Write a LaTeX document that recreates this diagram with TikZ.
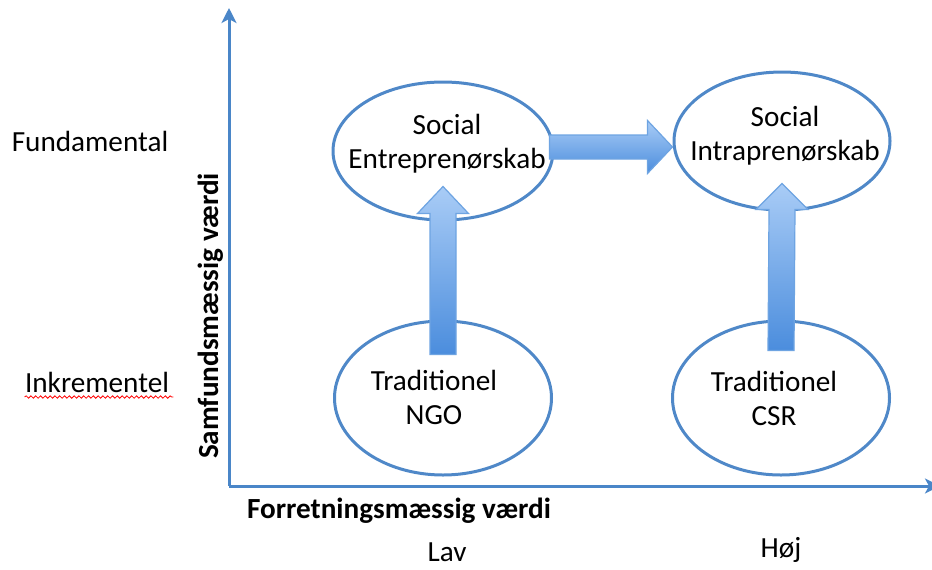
\documentclass[tikz,border=0pt]{standalone}
\usepackage{fontspec}
\setmainfont{Carlito}
\usetikzlibrary{shapes.geometric,arrows.meta,calc,decorations.pathmorphing}
\definecolor{axisblue}{HTML}{4A86C8}
\definecolor{ringblue}{HTML}{4F88C8}
\definecolor{arrowlight}{HTML}{A9CCF6}
\definecolor{arrowdark}{HTML}{4B8DDD}
\definecolor{arrowedge}{HTML}{6EA4E2}
\newcommand{\pxScale}[0]{0.5pt}

\begin{document}
\begin{tikzpicture}[x=\pxScale, y=-\pxScale, font=\fontsize{14.6}{17}\selectfont]
  \tikzset{
    axis/.style={draw=axisblue, line width=1.5pt, -{Stealth[length=7.5pt,width=7.5pt,inset=2pt]}},
    quadrant/.style={ellipse, draw=ringblue, line width=1.5pt, fill=white, inner sep=0pt},
    quadtext/.style={align=center, inner sep=0pt},
    levelname/.style={anchor=base, inner sep=0pt},
    axisname/.style={anchor=base, inner sep=0pt, font=\fontsize{14.6}{17}\selectfont\bfseries},
    blockarrow/.style={draw=arrowedge, line width=0.6pt, top color=arrowlight, bottom color=arrowdark}
  }
  \useasboundingbox (0,0) rectangle (932,569);

  % axes
  \coordinate (origin) at (229,486);
  \coordinate (ytop) at (229,8);
  \coordinate (xend) at (940,486);
  \draw[axis] (origin) -- (ytop);
  \draw[axis] (origin) -- (xend);

  % the four quadrants
  \node[quadrant, minimum width=110pt, minimum height=69pt] (ent) at (443,151) {};
  \node[quadrant, minimum width=108pt, minimum height=69pt] (intra) at (782,141) {};
  \node[quadrant, minimum width=108.5pt, minimum height=77pt] (ngo) at (443,398) {};
  \node[quadrant, minimum width=108.5pt, minimum height=77pt] (csr) at (781,398) {};

  % block arrows, tail inside one ellipse, tip inside the next
  \coordinate (ngoTail) at ($(ngo.north)+(0,35)$);
  \coordinate (entTip) at ($(ent.south)+(0,-35)$);
  \shadedraw[blockarrow]
    ($(ngoTail)+(-13,0)$) -- ($(entTip)+(-13,27)$) -- ($(entTip)+(-25.5,27)$) -- (entTip)
    -- ($(entTip)+(25.5,27)$) -- ($(entTip)+(13,27)$) -- ($(ngoTail)+(13,0)$) -- cycle;

  \coordinate (csrTail) at ($(csr.north)+(0,31)$);
  \coordinate (intraTip) at ($(intra.south)+(0,-28)$);
  \shadedraw[blockarrow]
    ($(csrTail)+(-13,0)$) -- ($(intraTip)+(-13,26)$) -- ($(intraTip)+(-26,26)$) -- (intraTip)
    -- ($(intraTip)+(26,26)$) -- ($(intraTip)+(13,26)$) -- ($(csrTail)+(13,0)$) -- cycle;

  \coordinate (entTail) at ($(ent.east)+(-5,-4)$);
  \coordinate (intraTip2) at (intra.west |- entTail);
  \shadedraw[blockarrow]
    ($(entTail)+(0,-12)$) -- ($(intraTip2)+(-25,-12)$) -- ($(intraTip2)+(-25,-26.5)$) -- (intraTip2)
    -- ($(intraTip2)+(-25,26.5)$) -- ($(intraTip2)+(-25,12)$) -- ($(entTail)+(0,12)$) -- cycle;

  \node[quadtext] (entText) at (447,144) {Social\\Entreprenørskab};
  \node[quadtext] (intraText) at (785,136) {Social\\Intraprenørskab};
  \node[quadtext] (ngoText) at (434,397) {Traditionel\\NGO};
  \node[quadtext] (csrText) at (774,398) {Traditionel\\CSR};

  % level names and axis names
  \node[levelname] (fund) at (90,151) {Fundamental};
  \node[levelname] (inkr) at (97,392) {Inkrementel};
  \draw[red, line width=0.4pt, decorate, decoration={snake, amplitude=0.6pt, segment length=2.4pt}]
    ($(inkr.base west)+(0,5)$) -- ($(inkr.base east)+(4,5)$);
  \node[axisname, rotate=90] (yname) at (218,316) {Samfundsmæssig værdi};
  \node[axisname] (xname) at (399,518) {Forretningsmæssig værdi};
  \node[levelname] (lav) at (447,561) {Lav};
  \node[levelname] (hoj) at (781,557) {Høj};
\end{tikzpicture}
\end{document}
